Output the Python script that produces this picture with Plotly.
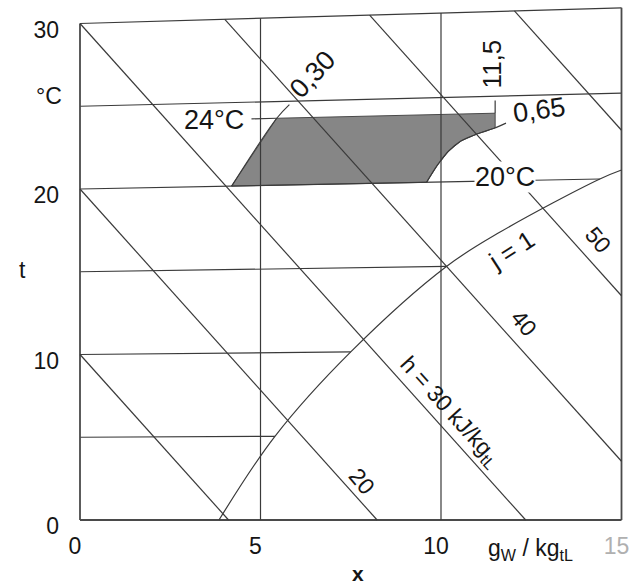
import numpy as np
import plotly.graph_objects as go

# ---------------- data ----------------
isotherm_t = [0, 5, 10, 15, 20, 25, 30]          # °C
moisture_grid_x = [0, 5, 10, 15]                 # g_W / kg_tL
enthalpy_h = [10, 20, 30, 40, 50, 60]            # kJ/kg_tL
sat_t = [0, 5, 10, 15, 17, 20, 20.5]             # saturation curve (phi = 1)
sat_x = [3.85, 5.4, 7.5, 10.15, 11.65, 14.4, 15.0]
phi30_t = [20.0, 24.0, 24.8]                     # phi = 0.30
phi30_x = [4.2, 5.45, 5.8]
phi65_t = [20.0, 21.0, 21.8, 22.4, 22.8, 23.1, 23.4]   # phi = 0.65
phi65_x = [9.6, 9.9, 10.2, 10.55, 11.0, 11.45, 11.8]
comfort_t = [20, 24]
comfort_xmax = 11.5
x_ticks = [0, 5, 10, 15]
t_ticks = [0, 10, 20, 30]

# Mollier-diagram geometry (oblique axes)
SKEW = 0.0021     # tilt of isotherms per g/kg
HSLOPE = 2.43     # drop of isenthalps per g/kg
T_TOP = 30
X_MAX = 15


def Y(t, x):
    return np.asarray(t, float) * (1 + SKEW * np.asarray(x, float))


LINE = dict(color='#3a3a3a', width=1.2)
FRAME = dict(color='#4a4a4a', width=1.8)
FONT = "Liberation Sans, Arial, sans-serif"

fig = go.Figure()


def add_line(xs, ys, line=LINE, shape='linear'):
    fig.add_trace(go.Scatter(x=list(xs), y=list(ys), mode='lines',
                             line=dict(**line, shape=shape),
                             hoverinfo='skip', showlegend=False))


# comfort zone (grey area)
lx = phi30_x[:2]
lt = phi30_t[:2]
t_right = float(np.interp(comfort_xmax, phi65_x, phi65_t))
r_pts = [(x, t) for x, t in zip(phi65_x, phi65_t) if x <= comfort_xmax][::-1]
poly_x = lx + [comfort_xmax, comfort_xmax] + [p[0] for p in r_pts] + [lx[0]]
poly_t = lt + [comfort_t[1], t_right] + [p[1] for p in r_pts] + [lt[0]]
fig.add_trace(go.Scatter(x=poly_x, y=Y(poly_t, poly_x), mode='lines', fill='toself',
                         fillcolor='#868686', line=dict(color='#4a4a4a', width=1),
                         hoverinfo='skip', showlegend=False))

# isotherms
for t in isotherm_t:
    if t == 0:
        add_line([0, X_MAX], Y([t, t], [0, X_MAX]), FRAME)
        continue
    xend = min(X_MAX, float(np.interp(t, sat_t, sat_x)))
    add_line([0, xend], Y([t, t], [0, xend]))

# constant moisture content lines
for xv in moisture_grid_x:
    add_line([xv, xv], [0, float(Y(T_TOP, xv))], FRAME if xv in (0, X_MAX) else LINE)

# isenthalps
for h in enthalpy_h:
    if h <= T_TOP:
        x0, y0 = 0.0, float(h)
    else:
        x0 = (h - T_TOP) / (HSLOPE + T_TOP * SKEW)
        y0 = h - HSLOPE * x0
    if h / HSLOPE <= X_MAX:
        x1, y1 = h / HSLOPE, 0.0
    else:
        x1, y1 = X_MAX, h - HSLOPE * X_MAX
    add_line([x0, x1], [y0, y1])

# saturation curve
add_line(sat_x, Y(sat_t, sat_x), shape='spline')

# relative humidity lines / leaders
add_line(phi30_x, Y(phi30_t, phi30_x), shape='spline')
add_line(phi65_x, Y(phi65_t, phi65_x), shape='spline')
add_line([comfort_xmax, comfort_xmax], Y([comfort_t[1], 24.75], [comfort_xmax] * 2))
add_line([4.75, phi30_x[1]], Y([comfort_t[1]] * 2, [4.75, phi30_x[1]]))

# ---------------- annotations ----------------
def ann(text, x, t, size=27, angle=0, bg=None, **kw):
    d = dict(text=text, x=x, y=float(Y(t, x)), xref='x', yref='y', showarrow=False,
             xanchor='center', yanchor='middle',
             textangle=angle, font=dict(family=FONT, size=size, color='#151515'))
    if bg:
        d.update(bgcolor=bg, borderpad=0)
    d.update(kw)
    fig.add_annotation(**d)


ann('24°C', 3.71, 24.0)
ann('20°C', 11.76, 20.25, bg='white')
ann('0,65', 12.73, 24.1, angle=-8)
ann('11,5', 11.42, 26.9, size=26, angle=-90)
ann('0,30', 6.45, 26.6, angle=-47)
ann('j = 1', 11.95, 15.9, size=25, angle=-33)
ann('h = 30 kJ/kg<sub>tL</sub>', 10.24, 6.4, size=23, angle=48)
ann('20', 7.80, 2.3, size=23, angle=50)
ann('40', 12.29, 11.6, size=23, angle=50)
ann('50', 14.35, 16.4, size=23, angle=50)

W, H = 632, 587
ML, MR, MT, MB = 78, 8, 4, 65
PW, PH = W - ML - MR, H - MT - MB
XS, YS = 36.1, 16.55          # px per g/kg, px per Y unit
x_lo = -(80 - ML) / XS
y_lo = -(H - MB - 520) / YS


def paper(px, py):
    return (px - ML) / PW, (H - MB - py) / PH


for text, px, py, size in [('°C', 49, 96, 23), ('t', 22, 270, 23), ('<b>x</b>', 358, 573, 21),
                           ('g<sub>W</sub> / kg<sub>tL</sub>', 530, 549, 23)]:
    xp, yp = paper(px, py)
    fig.add_annotation(text=text, x=xp, y=yp, xref='paper', yref='paper', showarrow=False,
                       xanchor='center', yanchor='middle',
                       font=dict(family=FONT, size=size, color='#151515'))

fig.update_layout(
    width=W, height=H, margin=dict(l=ML, r=MR, t=MT, b=MB, autoexpand=False),
    paper_bgcolor='white', plot_bgcolor='white',
    font=dict(family=FONT, color='#151515'),
    xaxis=dict(range=[x_lo, x_lo + PW / XS], showgrid=False, zeroline=False, showline=False,
               automargin=False, tickvals=x_ticks,
               ticktext=[str(v) if v != 15 else '<span style="color:#b0b0b0">15</span>' for v in x_ticks],
               ticks='', tickfont=dict(size=23), ticklabelstandoff=8, ticklabelshift=-5),
    yaxis=dict(range=[y_lo, y_lo + PH / YS], showgrid=False, zeroline=False, showline=False,
               automargin=False, tickvals=t_ticks, ticktext=[str(v) for v in t_ticks],
               ticks='', tickfont=dict(size=23), ticklabelstandoff=18, ticklabelshift=6),
)

fig.write_html("out.html", config={'displayModeBar': False},
               post_script="document.body.style.margin='0px';")
